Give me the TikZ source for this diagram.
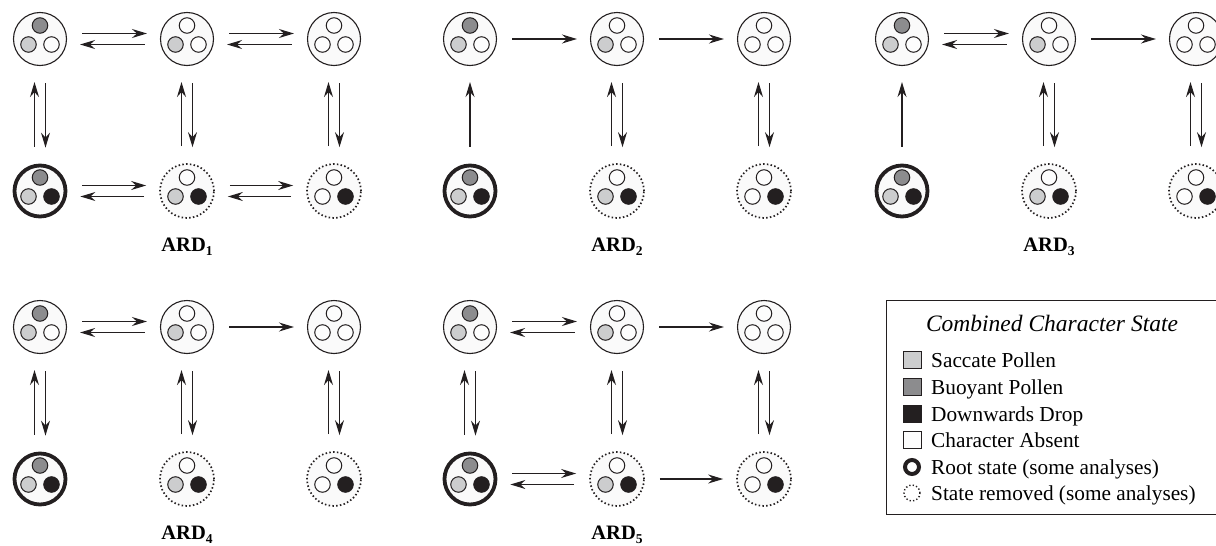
\documentclass[tikz,border=0pt]{standalone}
\usepackage{fontspec}
\setmainfont{Liberation Serif}
\usetikzlibrary{arrows.meta}
\definecolor{cLine}{HTML}{231F20}
\definecolor{cSac}{HTML}{CCCDCE}
\definecolor{cBuo}{HTML}{8C8C8E}
\definecolor{cDrop}{HTML}{231F20}
\definecolor{cAbs}{HTML}{FDFDFD}
\definecolor{cBg}{HTML}{FAFAFA}
\tikzset{
 stbase/.style={circle, inner sep=0pt, fill=cBg, draw=cLine},
 plainst/.style={stbase, line width=1.1pt, minimum size=53pt},
 rootst/.style={stbase, line width=3.8pt, minimum size=51pt},
 remst/.style={stbase, line width=1.7pt, dash pattern=on 1.5pt off 2.3pt, minimum size=54pt},
 dot/.style={circle, inner sep=0pt, draw=cLine, line width=1pt, minimum size=15.5pt},
 arr/.style={draw=cLine, line width=1.2pt, -{Stealth[length=15pt,width=9pt,inset=5pt]}},
 hsh/.style={shorten <=15pt, shorten >=13pt},
 vsh/.style={shorten <=17pt, shorten >=16pt},
 ardlbl/.style={font=\fontsize{20.5}{24}\selectfont\bfseries, anchor=base, inner sep=0pt},
 legtxt/.style={font=\fontsize{21.3}{25}\selectfont, anchor=base west, inner sep=0pt},
 legsq/.style={draw=cLine, line width=1pt, minimum width=18pt, minimum height=16.5pt, inner sep=0pt},
}
\newcommand\mystate[7]{%
 \node[#4] (#1) at (#2,#3) {};
 \node[dot, fill=#5] (#1t) at ([yshift=13.5pt]#1.center) {};
 \node[dot, fill=#6] (#1l) at ([xshift=-11.5pt,yshift=-5.5pt]#1.center) {};
 \node[dot, fill=#7] (#1r) at ([xshift=11.5pt,yshift=-5.5pt]#1.center) {};
}
\newcommand\ardnodes[3]{%
 \mystate{#1a}{#2}{#3}{plainst}{cBuo}{cSac}{cAbs}
 \mystate{#1b}{#2+147}{#3}{plainst}{cAbs}{cSac}{cAbs}
 \mystate{#1c}{#2+294}{#3}{plainst}{cAbs}{cAbs}{cAbs}
 \mystate{#1d}{#2}{#3+152}{rootst}{cBuo}{cSac}{cDrop}
 \mystate{#1e}{#2+147}{#3+152}{remst}{cAbs}{cSac}{cDrop}
 \mystate{#1f}{#2+294}{#3+152}{remst}{cAbs}{cAbs}{cDrop}
}
\newcommand\hdbl[2]{%
 \draw[arr,hsh] ([yshift=5.5pt]#1.east) -- ([yshift=5.5pt]#2.west);
 \draw[arr,hsh] ([yshift=-5.5pt]#2.west) -- ([yshift=-5.5pt]#1.east);
}
\newcommand\hsgl[2]{\draw[arr,hsh] (#1) -- (#2);}
\newcommand\vdbl[2]{%
 \draw[arr,vsh] ([xshift=-5.5pt]#2.north) -- ([xshift=-5.5pt]#1.south);
 \draw[arr,vsh] ([xshift=5.5pt]#1.south) -- ([xshift=5.5pt]#2.north);
}
\newcommand\vup[2]{\draw[arr,vsh] (#2) -- (#1);}
\newcommand\ardsub[1]{\raisebox{-4pt}{\fontsize{13.5}{14}\selectfont\bfseries #1}}
\begin{document}
\begin{tikzpicture}[x=1pt,y=-1pt]
\useasboundingbox (0,0) rectangle (1216,546);
\ardnodes{g1}{40}{39}
\ardnodes{g2}{470}{39}
\ardnodes{g3}{902}{39}
\ardnodes{g4}{40}{327}
\ardnodes{g5}{470}{327}
% ARD1
\hdbl{g1a}{g1b} \hdbl{g1b}{g1c} \hdbl{g1d}{g1e} \hdbl{g1e}{g1f}
\vdbl{g1a}{g1d} \vdbl{g1b}{g1e} \vdbl{g1c}{g1f}
% ARD2
\hsgl{g2a}{g2b} \hsgl{g2b}{g2c}
\vup{g2a}{g2d} \vdbl{g2b}{g2e} \vdbl{g2c}{g2f}
% ARD3
\hdbl{g3a}{g3b} \hsgl{g3b}{g3c}
\vup{g3a}{g3d} \vdbl{g3b}{g3e} \vdbl{g3c}{g3f}
% ARD4
\hdbl{g4a}{g4b} \hsgl{g4b}{g4c}
\vdbl{g4a}{g4d} \vdbl{g4b}{g4e} \vdbl{g4c}{g4f}
% ARD5
\hdbl{g5a}{g5b} \hsgl{g5b}{g5c}
\hdbl{g5d}{g5e} \hsgl{g5e}{g5f}
\vdbl{g5a}{g5d} \vdbl{g5b}{g5e} \vdbl{g5c}{g5f}
% labels
\node[ardlbl] (l1) at (187,251) {ARD\ardsub{1}};
\node[ardlbl] (l2) at (617,251) {ARD\ardsub{2}};
\node[ardlbl] (l3) at (1049,251) {ARD\ardsub{3}};
\node[ardlbl] (l4) at (187,539) {ARD\ardsub{4}};
\node[ardlbl] (l5) at (617,539) {ARD\ardsub{5}};
% legend
\node[draw=cLine, line width=1.1pt, minimum width=332pt, minimum height=214pt, anchor=north west, inner sep=0pt] (leg) at (886,300) {};
\node[legtxt, anchor=base, font=\fontsize{23.5}{27}\selectfont\itshape] (legt) at (1052,331) {Combined Character State};
\node[legsq, fill=cSac] (sq1) at (912,360) {};
\node[legtxt] (t1) at (931,367) {Saccate Pollen};
\node[legsq, fill=cBuo] (sq2) at (912,387) {};
\node[legtxt] (t2) at (931,394) {Buoyant Pollen};
\node[legsq, fill=cDrop] (sq3) at (912,414) {};
\node[legtxt] (t3) at (931,421) {Downwards Drop};
\node[legsq, fill=cAbs] (sq4) at (912,440) {};
\node[legtxt] (t4) at (931,447) {Character Absent};
\node[circle, draw=cLine, line width=4pt, minimum size=14pt, inner sep=0pt] (ic5) at (912,467) {};
\node[legtxt] (t5) at (931,474) {Root state (some analyses)};
\node[circle, draw=cLine, line width=1.4pt, dash pattern=on 1.3pt off 2.2pt, minimum size=16pt, inner sep=0pt] (ic6) at (912,493) {};
\node[legtxt] (t6) at (931,500) {State removed (some analyses)};
\end{tikzpicture}
\end{document}
